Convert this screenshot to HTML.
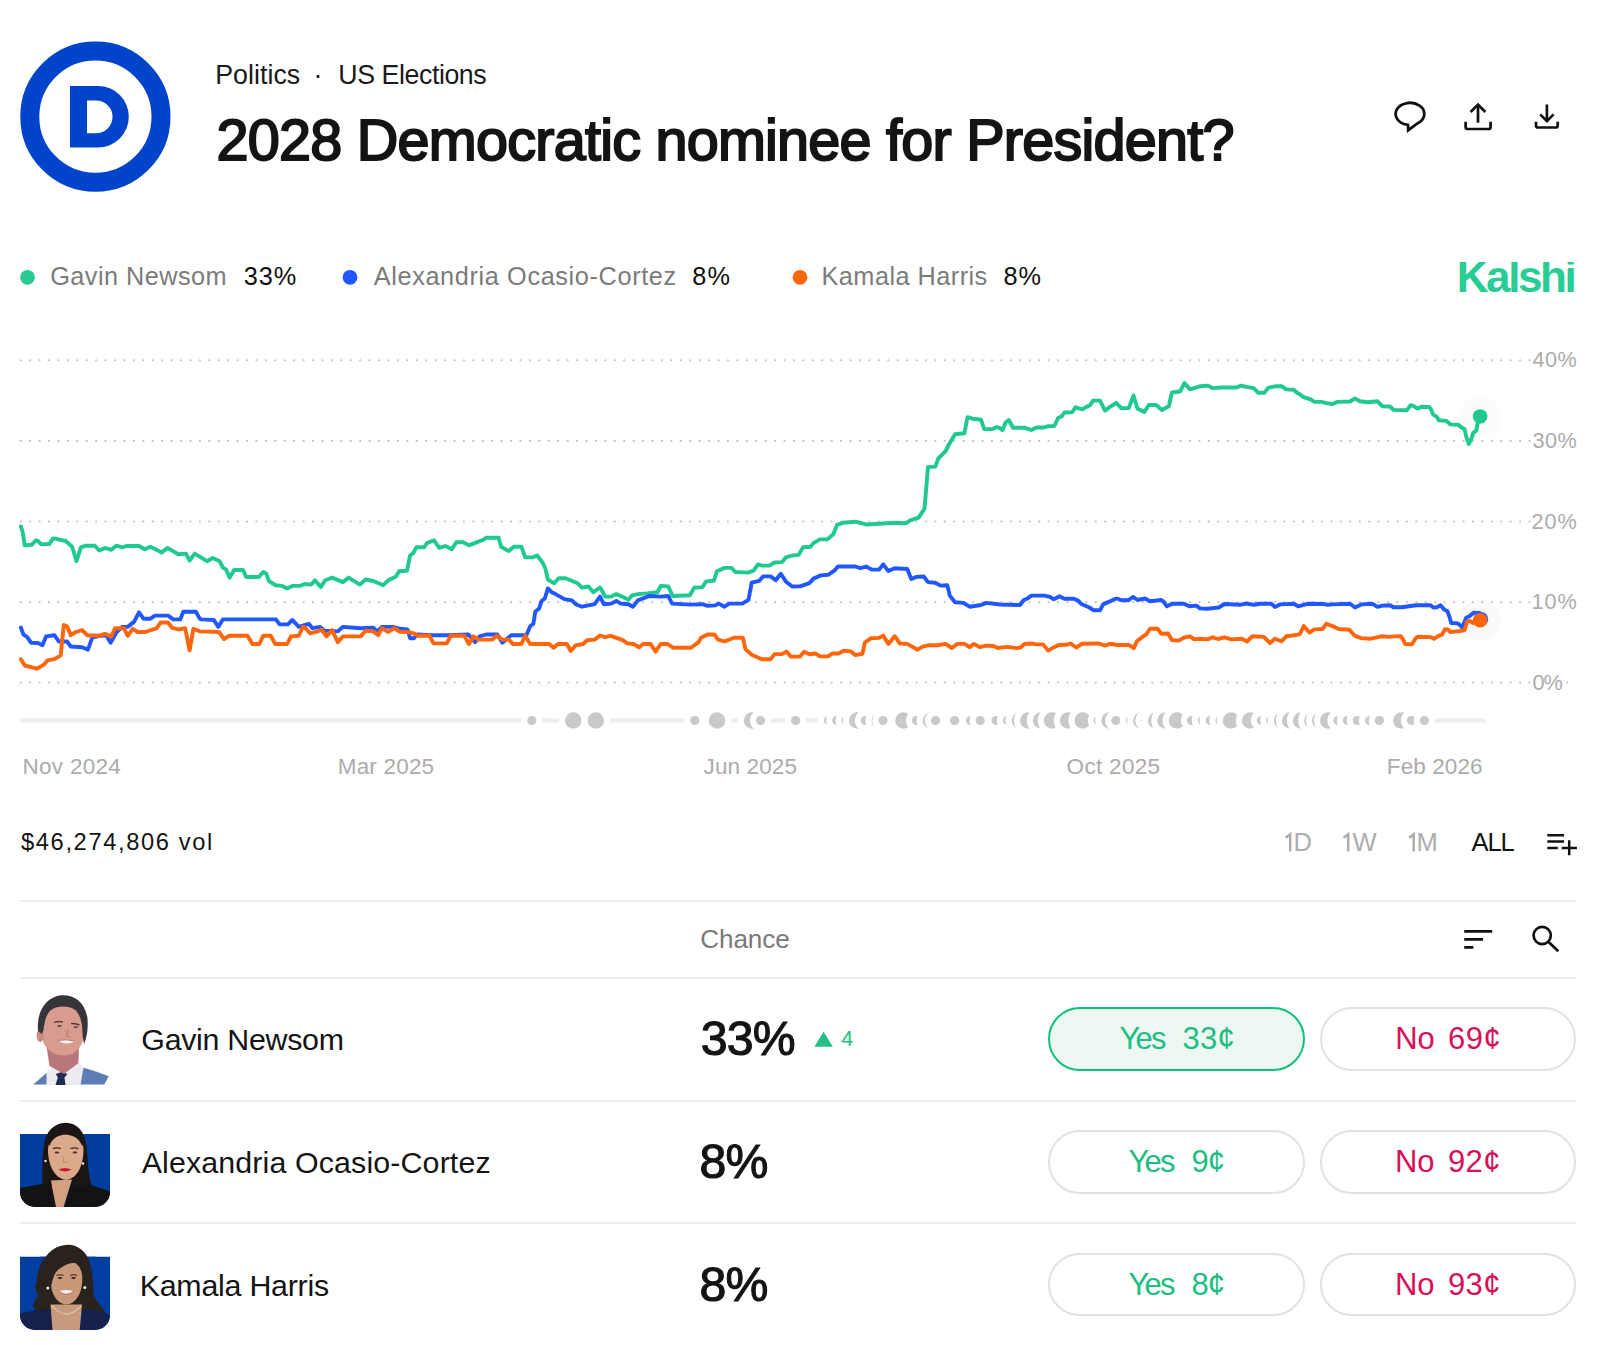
<!DOCTYPE html>
<html><head><meta charset="utf-8">
<style>
html,body{margin:0;padding:0;background:#fff;}
body{width:1600px;height:1345px;overflow:hidden;position:relative;font-family:"Liberation Sans",sans-serif;}
.abs{position:absolute;}
.t{position:absolute;white-space:nowrap;font-family:"Liberation Sans",sans-serif;}
.div{position:absolute;left:20px;width:1556px;height:2px;background:#ececec;}
.btn{position:absolute;box-sizing:border-box;height:63.5px;border-radius:32px;border:2px solid #e2e2e2;background:#fff;}
.btn.yes1{border-color:#0DC07E;background:#EEF8F3;}
</style></head><body>
<!-- Dem logo -->
<svg class="abs" style="left:0;top:0" width="200" height="200" viewBox="0 0 200 200">
<circle cx="95.4" cy="116.7" r="65.6" fill="none" stroke="#0044CB" stroke-width="19"/>
<path fill="#0044CB" fill-rule="evenodd" d="M70,86 H98 A30.8,30.8 0 0 1 98,147.6 H70 Z M87,100.4 H96.1 A16.45,16.45 0 0 1 96.1,133.3 H87 Z"/>
</svg>
<!-- header icons -->
<svg class="abs" style="left:1380px;top:90px" width="200" height="50" viewBox="1380 90 200 50">
<g fill="none" stroke="#111" stroke-width="2.8" stroke-linejoin="miter">
<path d="M1408.2,130.2 L1408,124.9 A14.35,11.1 0 1 1 1417.4,123.4 Z"/>
</g>
<g fill="none" stroke="#111" stroke-width="2.7" stroke-linecap="butt" stroke-linejoin="miter">
<path d="M1478,105 V122.7"/>
<path d="M1470.6,112 L1478,104.6 L1485.4,112"/>
<path d="M1465.6,121.8 V126.9 Q1465.6,129 1467.7,129 H1488.5 Q1490.6,129 1490.6,126.9 V121.8"/>
<path d="M1546.9,104.5 V121.5"/>
<path d="M1540.2,114.4 L1546.9,121.1 L1553.6,114.4"/>
<path d="M1536,121.8 V125.4 Q1536,127.5 1538.1,127.5 H1555.6 Q1557.7,127.5 1557.7,125.4 V121.8"/>
</g>
</svg>
<!-- legend dots -->
<svg class="abs" style="left:0;top:260px" width="820" height="40" viewBox="0 260 820 40">
<circle cx="27.5" cy="277.3" r="7.4" fill="#2ACA93"/>
<circle cx="350" cy="277.3" r="7.4" fill="#2157FF"/>
<circle cx="800" cy="277.3" r="7.4" fill="#FF650B"/>
</svg>
<svg class="abs" width="1600" height="1345" viewBox="0 0 1600 1345" style="left:0;top:0">
<circle cx="1480.1" cy="416.5" r="21" fill="#fafcfb"/>
<circle cx="1480.1" cy="620.3" r="21" fill="#f9f9f9"/>
<line x1="20.7" y1="360.3" x2="1576" y2="360.3" stroke="#c4c4c4" stroke-width="2.2" stroke-dasharray="0 9.43" stroke-linecap="round"/>
<line x1="20.7" y1="440.9" x2="1576" y2="440.9" stroke="#c4c4c4" stroke-width="2.2" stroke-dasharray="0 9.43" stroke-linecap="round"/>
<line x1="20.7" y1="521.6" x2="1576" y2="521.6" stroke="#c4c4c4" stroke-width="2.2" stroke-dasharray="0 9.43" stroke-linecap="round"/>
<line x1="20.7" y1="602.2" x2="1576" y2="602.2" stroke="#c4c4c4" stroke-width="2.2" stroke-dasharray="0 9.43" stroke-linecap="round"/>
<line x1="20.7" y1="682.6" x2="1576" y2="682.6" stroke="#c4c4c4" stroke-width="2.2" stroke-dasharray="0 9.43" stroke-linecap="round"/>
<path d="M20.9,526.4 L22.8,532.8 L24.7,545.4 L31.6,544.8 L36.0,540.3 L37.9,541.0 L41.1,544.1 L49.3,544.1 L53.1,538.4 L56.3,538.8 L65.7,541.0 L72.1,546.7 L76.5,561.2 L80.9,547.3 L86.0,545.7 L94.8,545.7 L99.2,550.5 L104.9,547.9 L111.3,549.8 L116.3,545.7 L122.0,547.3 L126.4,546.0 L139.0,546.0 L144.8,549.2 L150.4,546.7 L161.8,552.4 L167.5,547.9 L178.3,554.2 L185.8,553.6 L189.6,560.6 L194.7,553.6 L200.0,556.8 L207.0,561.2 L212.6,558.0 L219.6,561.2 L222.8,567.5 L225.9,569.4 L229.7,577.6 L234.1,570.0 L243.0,570.0 L246.1,577.0 L258.8,577.0 L263.2,572.0 L266.4,573.8 L268.9,580.8 L275.2,585.2 L282.2,585.9 L287.2,588.4 L292.3,585.9 L299.9,585.9 L304.9,584.0 L311.3,584.6 L315.0,580.2 L320.7,587.1 L325.2,580.2 L332.1,577.6 L342.9,582.1 L348.6,577.6 L359.9,584.6 L365.6,579.5 L373.2,581.0 L383.3,585.2 L388.4,580.2 L396.0,576.4 L399.1,571.3 L407.0,570.7 L410.1,555.5 L413.3,553.0 L416.4,547.3 L424.0,547.3 L427.2,542.9 L434.1,540.3 L439.2,547.9 L445.5,546.0 L451.8,549.2 L456.3,542.2 L463.2,542.2 L468.9,545.4 L475.9,542.6 L483.4,539.7 L486.0,537.8 L498.6,537.8 L501.1,546.7 L508.7,551.1 L513.8,546.7 L521.4,546.7 L525.2,557.4 L532.7,557.4 L537.2,555.5 L542.9,563.1 L545.4,568.8 L547.9,579.5 L554.2,583.3 L558.7,578.3 L565.6,578.3 L577.6,583.3 L582.0,587.7 L588.4,586.5 L593.4,592.2 L600.0,587.5 L601.9,590.3 L605.1,596.6 L611.4,596.6 L616.4,594.1 L623.4,597.2 L628.4,599.8 L632.2,595.3 L637.9,594.1 L646.8,593.4 L657.5,592.2 L660.7,585.9 L668.3,586.5 L672.7,596.0 L689.8,595.3 L694.2,587.7 L702.4,587.1 L706.2,581.4 L713.8,580.8 L716.9,571.3 L724.5,567.9 L731.5,567.9 L735.3,572.0 L747.9,572.6 L753.6,570.7 L758.0,564.4 L761.8,565.6 L769.4,565.6 L774.5,562.5 L782.0,562.1 L785.8,557.4 L792.2,555.5 L798.5,554.9 L803.1,547.3 L810.4,546.7 L813.5,543.2 L819.8,539.4 L827.1,539.4 L833.3,534.2 L837.0,524.9 L842.7,522.8 L855.2,521.7 L866.6,524.5 L879.1,523.8 L893.7,522.8 L906.1,523.2 L910.3,520.3 L918.6,517.6 L924.5,508.6 L928.0,467.0 L935.3,466.6 L938.4,458.3 L945.7,451.0 L949.4,443.7 L955.0,434.3 L964.4,433.3 L967.5,417.1 L972.7,418.7 L981.1,419.8 L984.2,429.1 L992.5,429.1 L996.7,427.1 L1000.0,428.1 L1002.5,430.3 L1005.6,422.5 L1008.8,420.0 L1013.1,427.8 L1025.0,427.8 L1031.3,430.0 L1036.3,427.5 L1043.8,427.5 L1047.5,426.3 L1054.4,426.0 L1058.1,418.1 L1061.9,416.3 L1064.4,412.5 L1071.9,412.3 L1075.6,407.3 L1082.5,409.4 L1086.3,406.9 L1090.0,405.3 L1093.1,400.6 L1100.0,400.6 L1105.0,410.6 L1110.0,406.9 L1116.3,402.8 L1121.3,408.1 L1128.8,408.1 L1133.5,395.6 L1137.5,408.8 L1144.4,411.9 L1148.8,405.0 L1156.3,405.0 L1161.9,410.0 L1168.8,406.3 L1171.9,392.5 L1180.0,391.5 L1184.4,383.1 L1190.0,389.4 L1200.0,386.3 L1207.5,385.6 L1212.5,388.1 L1221.3,387.5 L1236.3,387.5 L1241.3,385.6 L1246.3,386.9 L1253.8,388.1 L1258.1,392.8 L1264.4,392.8 L1268.1,387.8 L1275.0,386.3 L1281.9,386.3 L1286.3,389.4 L1293.8,389.8 L1296.9,392.5 L1300.6,394.8 L1303.1,396.9 L1310.6,399.4 L1314.4,401.9 L1321.3,401.9 L1326.3,403.1 L1332.5,404.0 L1337.5,401.9 L1350.0,401.5 L1355.0,398.5 L1360.0,401.3 L1367.5,402.3 L1377.5,401.3 L1382.5,406.3 L1390.0,406.5 L1393.4,409.9 L1406.8,410.3 L1410.6,405.1 L1413.4,405.8 L1417.5,408.6 L1421.6,406.8 L1429.2,407.0 L1431.3,409.9 L1433.0,414.4 L1436.8,416.8 L1438.8,420.3 L1446.4,420.9 L1450.5,424.4 L1458.1,424.7 L1461.5,427.5 L1464.6,429.2 L1466.3,436.8 L1468.7,444.0 L1471.1,439.5 L1473.2,433.0 L1476.3,430.6 L1477.7,423.0 L1480.1,416.5" fill="none" stroke="#1FC991" stroke-width="3.9" stroke-linejoin="round" stroke-linecap="round"/>
<path d="M20.9,627.6 L23.4,634.5 L27.2,637.1 L31.0,642.7 L37.9,643.0 L42.4,645.3 L46.1,636.4 L54.4,635.2 L58.8,641.5 L67.0,641.5 L70.8,646.5 L82.2,647.2 L87.9,649.7 L92.3,637.7 L99.9,635.8 L106.2,635.2 L110.6,642.7 L116.3,632.6 L122.0,626.9 L127.7,626.9 L134.0,621.9 L139.0,612.4 L143.5,618.7 L150.4,618.7 L154.9,615.6 L168.1,615.6 L173.2,619.4 L180.2,619.4 L183.3,611.8 L196.0,611.8 L199.7,618.7 L201.3,619.4 L213.9,620.0 L218.3,626.9 L222.8,619.4 L275.9,619.4 L279.6,624.4 L287.9,624.4 L292.3,620.0 L296.1,623.8 L298.6,626.9 L308.7,623.8 L312.5,628.2 L320.1,626.9 L324.5,630.7 L337.8,631.4 L342.9,626.9 L360.6,628.2 L373.2,627.6 L377.0,631.4 L382.0,626.9 L393.4,626.9 L399.7,628.8 L407.6,629.5 L410.1,638.3 L413.9,638.3 L417.1,634.5 L431.6,635.2 L449.3,635.2 L468.3,634.5 L475.2,642.1 L479.6,636.4 L486.0,634.5 L497.3,634.5 L502.4,642.7 L511.3,635.2 L526.4,635.2 L530.2,626.3 L533.4,623.8 L535.3,611.8 L539.1,608.6 L541.6,601.0 L544.8,598.5 L547.9,588.4 L551.7,592.2 L555.5,594.1 L564.4,599.1 L571.9,600.4 L575.7,604.2 L582.0,606.7 L594.7,604.2 L600.0,596.6 L603.8,604.2 L611.4,603.6 L616.4,601.0 L620.9,603.6 L628.4,604.2 L632.9,606.7 L637.9,600.4 L649.3,596.0 L660.7,596.6 L668.3,596.0 L672.1,603.6 L691.0,604.6 L702.4,604.2 L707.5,605.8 L715.0,605.4 L718.8,603.6 L724.5,606.7 L729.0,603.6 L742.2,603.6 L748.5,599.8 L751.7,582.7 L759.3,580.8 L763.1,576.4 L770.7,576.4 L775.7,580.2 L780.8,573.8 L785.8,581.4 L792.2,586.5 L800.0,586.4 L809.4,583.1 L813.5,578.6 L820.8,575.4 L828.1,574.8 L834.3,570.7 L837.9,566.5 L855.2,566.5 L860.4,568.2 L866.2,566.5 L871.8,569.6 L879.1,569.6 L883.2,564.4 L888.4,571.1 L894.7,568.2 L907.2,569.0 L911.3,579.0 L916.5,576.9 L923.8,576.5 L928.0,582.1 L935.3,582.7 L940.5,585.6 L947.3,585.2 L949.8,595.6 L955.0,602.3 L963.4,602.9 L969.6,606.7 L981.1,605.0 L986.3,602.9 L1000.0,604.5 L1020.0,605.0 L1023.8,600.0 L1026.9,598.8 L1031.3,595.6 L1044.4,595.6 L1050.0,596.9 L1053.8,599.4 L1059.4,596.3 L1064.4,598.8 L1073.8,598.8 L1078.1,600.6 L1081.3,604.0 L1089.4,607.5 L1093.8,610.3 L1100.0,610.3 L1103.1,604.4 L1108.8,601.9 L1113.8,599.4 L1116.9,598.5 L1121.9,600.3 L1128.1,600.3 L1133.1,596.9 L1137.5,600.0 L1145.0,598.5 L1150.0,601.3 L1161.3,600.0 L1163.8,601.9 L1166.9,606.3 L1172.5,603.8 L1183.8,603.8 L1189.4,606.3 L1196.3,605.6 L1200.0,608.4 L1207.5,608.8 L1218.8,607.5 L1224.4,604.0 L1240.0,604.8 L1246.3,603.5 L1253.8,604.8 L1260.0,603.8 L1271.3,603.8 L1275.0,606.9 L1280.0,604.4 L1293.8,603.8 L1298.1,606.3 L1307.5,603.8 L1323.8,604.0 L1327.5,604.8 L1332.5,604.4 L1350.0,603.8 L1355.0,607.5 L1361.3,604.4 L1372.5,603.8 L1377.5,606.9 L1382.5,605.6 L1390.0,605.2 L1393.4,607.2 L1401.7,607.2 L1416.1,605.3 L1430.6,605.3 L1433.3,607.5 L1436.8,607.2 L1440.5,605.3 L1444.3,609.6 L1447.4,611.3 L1449.5,616.8 L1451.2,623.0 L1457.4,623.3 L1459.4,624.7 L1462.2,627.5 L1466.3,617.5 L1469.1,616.5 L1473.5,612.7 L1479.4,613.0 L1481.0,614.5" fill="none" stroke="#2157FF" stroke-width="3.9" stroke-linejoin="round" stroke-linecap="round"/>
<path d="M20.9,659.2 L24.7,665.5 L36.7,668.7 L43.6,664.9 L47.4,660.4 L54.4,659.2 L60.7,655.4 L63.8,625.0 L67.0,626.3 L70.8,635.2 L75.9,632.0 L82.2,630.1 L87.2,635.2 L98.6,635.8 L104.9,633.9 L111.3,636.4 L115.0,628.2 L123.9,628.2 L127.7,635.8 L132.7,628.8 L137.8,632.0 L145.4,632.0 L156.8,628.2 L160.6,622.5 L168.1,622.5 L171.9,627.6 L178.3,629.5 L185.2,628.2 L189.6,650.3 L193.4,628.8 L200.0,631.4 L219.0,632.0 L224.0,639.0 L229.1,635.8 L247.4,635.8 L252.5,644.0 L259.4,644.0 L263.2,635.8 L270.8,635.8 L275.2,644.0 L287.2,644.0 L291.0,636.4 L298.6,635.8 L303.0,626.9 L306.2,628.8 L310.0,633.3 L317.6,631.4 L321.4,629.5 L326.4,636.4 L332.1,630.1 L337.8,642.1 L342.9,636.4 L360.6,636.4 L365.6,630.7 L373.2,631.4 L378.3,635.2 L382.0,628.2 L388.4,632.0 L394.1,628.2 L400.0,631.7 L407.6,632.0 L413.9,633.3 L417.1,635.8 L429.7,635.8 L433.5,643.4 L446.8,643.4 L450.6,635.8 L464.5,635.8 L468.9,644.0 L473.3,636.4 L478.4,639.6 L492.3,639.6 L496.7,635.8 L502.4,639.6 L508.7,639.6 L513.1,644.0 L521.4,644.0 L525.2,635.8 L530.2,644.0 L549.2,644.0 L553.6,647.8 L558.0,644.0 L566.9,644.0 L570.7,651.0 L575.7,645.3 L583.3,644.0 L587.1,640.2 L594.7,639.6 L600.0,635.5 L605.1,637.1 L610.7,635.8 L622.8,640.2 L627.2,643.4 L633.5,644.0 L639.2,647.2 L643.0,644.0 L650.6,644.0 L655.6,651.6 L660.7,644.0 L667.6,644.0 L673.3,647.8 L691.0,647.8 L698.6,642.1 L701.1,637.7 L707.5,634.5 L714.4,634.5 L718.2,639.6 L724.5,641.5 L734.0,637.7 L742.9,637.7 L745.4,649.1 L751.7,654.8 L761.8,659.2 L770.7,659.2 L774.5,654.1 L782.0,654.1 L786.5,651.6 L790.9,656.6 L800.0,656.5 L804.2,651.8 L809.4,654.3 L815.6,653.5 L819.8,656.4 L828.1,656.4 L832.3,653.5 L838.5,653.5 L843.7,650.8 L851.0,651.4 L855.2,655.0 L862.4,653.9 L864.9,642.5 L870.8,638.3 L879.1,637.9 L883.2,635.6 L888.4,643.9 L894.7,636.2 L899.9,643.5 L907.2,643.9 L917.6,649.7 L922.8,646.6 L929.0,645.2 L937.4,645.2 L945.7,643.9 L951.9,648.1 L957.1,643.9 L964.4,643.9 L969.6,647.2 L973.8,643.9 L980.0,647.2 L986.3,645.6 L993.5,646.0 L997.7,648.1 L1000.0,647.6 L1007.5,646.9 L1016.3,648.1 L1020.6,647.5 L1024.4,644.0 L1031.3,643.5 L1036.3,644.4 L1043.1,644.4 L1048.1,650.6 L1052.5,648.1 L1058.8,645.0 L1066.3,644.8 L1070.6,643.5 L1076.3,647.5 L1081.9,643.8 L1098.8,643.5 L1105.0,645.6 L1110.0,643.8 L1117.5,645.0 L1128.8,645.0 L1133.8,648.1 L1136.9,641.3 L1142.5,636.9 L1146.3,634.4 L1150.0,628.8 L1157.5,628.8 L1161.3,633.8 L1168.1,633.5 L1171.9,640.0 L1178.8,640.6 L1184.4,637.5 L1190.0,636.3 L1194.4,639.4 L1200.0,638.8 L1207.5,639.4 L1212.5,637.3 L1218.1,639.0 L1224.4,637.3 L1231.3,639.4 L1241.9,638.8 L1246.9,641.5 L1252.5,636.3 L1263.8,636.9 L1270.0,643.1 L1275.0,638.8 L1281.3,641.3 L1286.3,636.3 L1296.3,635.0 L1300.0,633.8 L1303.8,626.0 L1309.4,632.5 L1314.4,629.4 L1322.5,629.0 L1326.3,623.8 L1334.4,626.9 L1338.8,629.0 L1349.4,629.8 L1354.4,635.6 L1361.3,638.1 L1370.0,638.8 L1381.3,636.3 L1388.8,636.9 L1394.1,636.4 L1400.7,636.1 L1403.1,639.5 L1405.1,644.0 L1412.0,644.3 L1415.8,638.1 L1418.2,636.7 L1430.6,637.1 L1434.0,638.8 L1438.1,636.1 L1441.9,634.7 L1445.0,629.2 L1447.8,629.5 L1450.5,632.0 L1461.5,630.9 L1464.6,629.9 L1467.0,621.6 L1469.8,620.9 L1473.2,623.0 L1480.1,620.3" fill="none" stroke="#FF650B" stroke-width="3.9" stroke-linejoin="round" stroke-linecap="round"/>
<circle cx="1480.1" cy="416.5" r="7.3" fill="#1FC991"/>
<circle cx="1480.9" cy="619.2" r="7.3" fill="#2157FF"/>
<circle cx="1480.1" cy="620.3" r="7.3" fill="#FF650B"/>
<line x1="22" y1="720.5" x2="1484" y2="720.5" stroke="#ededed" stroke-width="4" stroke-linecap="round"/>
<circle cx="531.80" cy="720.5" r="10.60" fill="#fff"/><circle cx="531.80" cy="720.5" r="4.6" fill="#c9c9c9"/>
<circle cx="573.30" cy="720.5" r="14.30" fill="#fff"/><circle cx="573.30" cy="720.5" r="8.3" fill="#c9c9c9"/>
<circle cx="595.80" cy="720.5" r="14.30" fill="#fff"/><circle cx="595.80" cy="720.5" r="8.3" fill="#c9c9c9"/>
<circle cx="694.90" cy="720.5" r="10.60" fill="#fff"/><circle cx="694.90" cy="720.5" r="4.6" fill="#c9c9c9"/>
<circle cx="717.05" cy="720.5" r="14.30" fill="#fff"/><circle cx="717.05" cy="720.5" r="8.3" fill="#c9c9c9"/>
<circle cx="752.05" cy="720.5" r="14.30" fill="#fff"/><circle cx="752.05" cy="720.5" r="8.3" fill="#c9c9c9"/>
<circle cx="760.50" cy="720.5" r="10.60" fill="#fff"/><circle cx="760.50" cy="720.5" r="4.6" fill="#c9c9c9"/>
<circle cx="795.60" cy="720.5" r="10.60" fill="#fff"/><circle cx="795.60" cy="720.5" r="4.6" fill="#c9c9c9"/>
<circle cx="828.60" cy="720.5" r="10.60" fill="#fff"/><circle cx="828.60" cy="720.5" r="4.6" fill="#c9c9c9"/>
<circle cx="836.80" cy="720.5" r="10.60" fill="#fff"/><circle cx="836.80" cy="720.5" r="4.6" fill="#c9c9c9"/>
<circle cx="846.20" cy="720.5" r="10.60" fill="#fff"/><circle cx="846.20" cy="720.5" r="4.6" fill="#c9c9c9"/>
<circle cx="857.30" cy="720.5" r="14.30" fill="#fff"/><circle cx="857.30" cy="720.5" r="8.3" fill="#c9c9c9"/>
<circle cx="865.40" cy="720.5" r="10.60" fill="#fff"/><circle cx="865.40" cy="720.5" r="4.6" fill="#c9c9c9"/>
<circle cx="879.80" cy="720.5" r="14.30" fill="#fff"/><circle cx="879.80" cy="720.5" r="8.3" fill="#c9c9c9"/>
<circle cx="883.00" cy="720.5" r="10.60" fill="#fff"/><circle cx="883.00" cy="720.5" r="4.6" fill="#c9c9c9"/>
<circle cx="903.50" cy="720.5" r="14.30" fill="#fff"/><circle cx="903.50" cy="720.5" r="8.3" fill="#c9c9c9"/>
<circle cx="916.50" cy="720.5" r="10.60" fill="#fff"/><circle cx="916.50" cy="720.5" r="4.6" fill="#c9c9c9"/>
<circle cx="931.00" cy="720.5" r="14.30" fill="#fff"/><circle cx="931.00" cy="720.5" r="8.3" fill="#c9c9c9"/>
<circle cx="935.50" cy="720.5" r="10.60" fill="#fff"/><circle cx="935.50" cy="720.5" r="4.6" fill="#c9c9c9"/>
<circle cx="954.60" cy="720.5" r="10.60" fill="#fff"/><circle cx="954.60" cy="720.5" r="4.6" fill="#c9c9c9"/>
<circle cx="970.60" cy="720.5" r="10.60" fill="#fff"/><circle cx="970.60" cy="720.5" r="4.6" fill="#c9c9c9"/>
<circle cx="980.20" cy="720.5" r="10.60" fill="#fff"/><circle cx="980.20" cy="720.5" r="4.6" fill="#c9c9c9"/>
<circle cx="996.10" cy="720.5" r="10.60" fill="#fff"/><circle cx="996.10" cy="720.5" r="4.6" fill="#c9c9c9"/>
<circle cx="1007.50" cy="720.5" r="10.60" fill="#fff"/><circle cx="1007.50" cy="720.5" r="4.6" fill="#c9c9c9"/>
<circle cx="1019.90" cy="720.5" r="14.30" fill="#fff"/><circle cx="1019.90" cy="720.5" r="8.3" fill="#c9c9c9"/>
<circle cx="1028.30" cy="720.5" r="14.30" fill="#fff"/><circle cx="1028.30" cy="720.5" r="8.3" fill="#c9c9c9"/>
<circle cx="1041.05" cy="720.5" r="14.30" fill="#fff"/><circle cx="1041.05" cy="720.5" r="8.3" fill="#c9c9c9"/>
<circle cx="1052.05" cy="720.5" r="14.30" fill="#fff"/><circle cx="1052.05" cy="720.5" r="8.3" fill="#c9c9c9"/>
<circle cx="1068.05" cy="720.5" r="14.30" fill="#fff"/><circle cx="1068.05" cy="720.5" r="8.3" fill="#c9c9c9"/>
<circle cx="1082.70" cy="720.5" r="14.30" fill="#fff"/><circle cx="1082.70" cy="720.5" r="8.3" fill="#c9c9c9"/>
<circle cx="1098.35" cy="720.5" r="10.60" fill="#fff"/><circle cx="1098.35" cy="720.5" r="4.6" fill="#c9c9c9"/>
<circle cx="1109.55" cy="720.5" r="14.30" fill="#fff"/><circle cx="1109.55" cy="720.5" r="8.3" fill="#c9c9c9"/>
<circle cx="1115.85" cy="720.5" r="10.60" fill="#fff"/><circle cx="1115.85" cy="720.5" r="4.6" fill="#c9c9c9"/>
<circle cx="1130.50" cy="720.5" r="10.60" fill="#fff"/><circle cx="1130.50" cy="720.5" r="4.6" fill="#c9c9c9"/>
<circle cx="1141.40" cy="720.5" r="14.30" fill="#fff"/><circle cx="1141.40" cy="720.5" r="8.3" fill="#c9c9c9"/>
<circle cx="1146.00" cy="720.5" r="10.60" fill="#fff"/><circle cx="1146.00" cy="720.5" r="4.6" fill="#c9c9c9"/>
<circle cx="1156.20" cy="720.5" r="14.30" fill="#fff"/><circle cx="1156.20" cy="720.5" r="8.3" fill="#c9c9c9"/>
<circle cx="1165.55" cy="720.5" r="14.30" fill="#fff"/><circle cx="1165.55" cy="720.5" r="8.3" fill="#c9c9c9"/>
<circle cx="1177.05" cy="720.5" r="14.30" fill="#fff"/><circle cx="1177.05" cy="720.5" r="8.3" fill="#c9c9c9"/>
<circle cx="1191.50" cy="720.5" r="10.60" fill="#fff"/><circle cx="1191.50" cy="720.5" r="4.6" fill="#c9c9c9"/>
<circle cx="1202.50" cy="720.5" r="10.60" fill="#fff"/><circle cx="1202.50" cy="720.5" r="4.6" fill="#c9c9c9"/>
<circle cx="1210.20" cy="720.5" r="10.60" fill="#fff"/><circle cx="1210.20" cy="720.5" r="4.6" fill="#c9c9c9"/>
<circle cx="1220.00" cy="720.5" r="10.60" fill="#fff"/><circle cx="1220.00" cy="720.5" r="4.6" fill="#c9c9c9"/>
<circle cx="1231.05" cy="720.5" r="14.30" fill="#fff"/><circle cx="1231.05" cy="720.5" r="8.3" fill="#c9c9c9"/>
<circle cx="1250.20" cy="720.5" r="14.30" fill="#fff"/><circle cx="1250.20" cy="720.5" r="8.3" fill="#c9c9c9"/>
<circle cx="1261.50" cy="720.5" r="10.60" fill="#fff"/><circle cx="1261.50" cy="720.5" r="4.6" fill="#c9c9c9"/>
<circle cx="1270.85" cy="720.5" r="10.60" fill="#fff"/><circle cx="1270.85" cy="720.5" r="4.6" fill="#c9c9c9"/>
<circle cx="1282.05" cy="720.5" r="14.30" fill="#fff"/><circle cx="1282.05" cy="720.5" r="8.3" fill="#c9c9c9"/>
<circle cx="1290.20" cy="720.5" r="14.30" fill="#fff"/><circle cx="1290.20" cy="720.5" r="8.3" fill="#c9c9c9"/>
<circle cx="1301.20" cy="720.5" r="14.30" fill="#fff"/><circle cx="1301.20" cy="720.5" r="8.3" fill="#c9c9c9"/>
<circle cx="1312.40" cy="720.5" r="14.30" fill="#fff"/><circle cx="1312.40" cy="720.5" r="8.3" fill="#c9c9c9"/>
<circle cx="1320.20" cy="720.5" r="14.30" fill="#fff"/><circle cx="1320.20" cy="720.5" r="8.3" fill="#c9c9c9"/>
<circle cx="1328.30" cy="720.5" r="14.30" fill="#fff"/><circle cx="1328.30" cy="720.5" r="8.3" fill="#c9c9c9"/>
<circle cx="1338.00" cy="720.5" r="10.60" fill="#fff"/><circle cx="1338.00" cy="720.5" r="4.6" fill="#c9c9c9"/>
<circle cx="1347.50" cy="720.5" r="10.60" fill="#fff"/><circle cx="1347.50" cy="720.5" r="4.6" fill="#c9c9c9"/>
<circle cx="1357.35" cy="720.5" r="10.60" fill="#fff"/><circle cx="1357.35" cy="720.5" r="4.6" fill="#c9c9c9"/>
<circle cx="1369.60" cy="720.5" r="10.60" fill="#fff"/><circle cx="1369.60" cy="720.5" r="4.6" fill="#c9c9c9"/>
<circle cx="1379.35" cy="720.5" r="10.60" fill="#fff"/><circle cx="1379.35" cy="720.5" r="4.6" fill="#c9c9c9"/>
<circle cx="1401.40" cy="720.5" r="14.30" fill="#fff"/><circle cx="1401.40" cy="720.5" r="8.3" fill="#c9c9c9"/>
<circle cx="1411.50" cy="720.5" r="10.60" fill="#fff"/><circle cx="1411.50" cy="720.5" r="4.6" fill="#c9c9c9"/>
<circle cx="1424.35" cy="720.5" r="10.60" fill="#fff"/><circle cx="1424.35" cy="720.5" r="4.6" fill="#c9c9c9"/>
</svg>
<!-- list add icon -->
<svg class="abs" style="left:1540px;top:825px" width="50" height="40" viewBox="1540 825 50 40">
<g stroke="#111" stroke-width="2.5" fill="none">
<path d="M1547.3,835.3 H1564.1 M1547.3,841.6 H1564.1 M1547.3,847.9 H1557.8 M1561.7,847.9 H1576.9 M1569.2,840.3 V855.3"/>
</g>
</svg>
<svg class="abs" style="left:1280px;top:830px" width="160" height="26" viewBox="1280 830 160 26">
<g stroke="#adadad" stroke-width="2.5" fill="none" stroke-linejoin="miter">
<path d="M1290.2,851.6 V834.3 L1285.6,837.8"/>
<path d="M1348.2,851.6 V834.3 L1343.6,837.8"/>
<path d="M1413.7,851.6 V834.3 L1409.1,837.8"/>
</g></svg>
<!-- dividers -->
<div class="div" style="top:900px"></div>
<div class="div" style="top:977px"></div>
<div class="div" style="top:1100px"></div>
<div class="div" style="top:1222px"></div>
<!-- filter & search -->
<svg class="abs" style="left:1450px;top:915px" width="130" height="45" viewBox="1450 915 130 45">
<g stroke="#111" stroke-width="2.7" fill="none">
<path d="M1464.2,931.4 H1492.2 M1464.2,939.4 H1483 M1464.2,947.3 H1473.4"/>
<circle cx="1542.2" cy="935.5" r="8.6"/>
<path d="M1548.6,942 L1558.3,951.3"/>
</g>
</svg>
<!-- buttons -->
<div class="btn yes1" style="left:1048.2px;top:1007.4px;width:256.4px"></div>
<div class="btn" style="left:1320px;top:1007.4px;width:256px"></div>
<div class="btn" style="left:1048.2px;top:1130.2px;width:256.4px"></div>
<div class="btn" style="left:1320px;top:1130.2px;width:256px"></div>
<div class="btn" style="left:1048.2px;top:1252.8px;width:256.4px"></div>
<div class="btn" style="left:1320px;top:1252.8px;width:256px"></div>
<!-- up triangle -->
<svg class="abs" style="left:810px;top:1028px" width="30" height="22" viewBox="810 1028 30 22">
<path d="M814.3,1046.7 L823.6,1031.8 L832.9,1046.7 Z" fill="#22BF86"/>
</svg>
<!-- portraits -->
<svg class="abs" style="left:20px;top:990px" width="92" height="100" viewBox="20 990 92 100">
<path d="M33.2,1084.6 L46.2,1073.3 L60,1066 L76,1064 L82,1067.3 L96,1071.5 L108.7,1076.2 L104.2,1084.6 Z" fill="#5E7CB6"/>
<path d="M46.4,1085 L46.6,1071 L58,1064 L78,1062 L83.5,1067.5 L80.5,1085 Z" fill="#EEEBF0"/>
<path d="M55.5,1085 L57.8,1077.5 L55.8,1074 L61.5,1072 L67.5,1074 L64.5,1077.5 L65.5,1085 Z" fill="#1F2C55"/>
<path d="M46.5,1046 L79,1044 L78.5,1063 L64,1074 L49.5,1066 Z" fill="#B7767A"/>
<path d="M39.5,1026 C39.5,1016 45,1007 56,1005 C68,1003 80,1007 83.5,1020 C85.5,1030 84.5,1040 80,1047 C75,1054 68,1056 62.5,1055.5 C54,1055 47,1050 43.5,1043 Z" fill="#D79C8F"/>
<ellipse cx="40.2" cy="1035.5" rx="3.6" ry="6.5" fill="#C98A80"/>
<path d="M38,1031 C36.5,1012 45,998 60.5,995.3 C74,994.5 84,1001 87.3,1017 C88.5,1027 87,1038 84,1044 L82.5,1035 C82.8,1024 80.5,1016 76,1010.5 C70,1005.5 58,1005 51,1010 C46,1014 44.5,1022 43.5,1030 L42,1034 Z" fill="#36353A"/>
<path d="M54.5,1022.5 Q58.5,1020.8 63,1022.2" stroke="#5A3A36" stroke-width="1.4" fill="none"/>
<path d="M71,1023.6 Q75.5,1023 79.5,1025.2" stroke="#5A3A36" stroke-width="1.4" fill="none"/>
<ellipse cx="59.5" cy="1026" rx="2.2" ry="1" fill="#6A4440"/>
<ellipse cx="75.8" cy="1027.3" rx="2.2" ry="1" fill="#6A4440"/>
<path d="M68,1030 L66.5,1036.5 L70.5,1037" stroke="#B97C74" stroke-width="1.2" fill="none"/>
<path d="M57.8,1040.4 Q66,1039 75,1041 Q67,1046.5 57.8,1040.4 Z" fill="#F4F0F0"/>
<path d="M57.8,1040.4 Q66,1039 75,1041" stroke="#A8605C" stroke-width="0.8" fill="none"/>
</svg>
<svg class="abs" style="left:20px;top:1115px" width="92" height="96" viewBox="20 1115 92 96">
<defs><clipPath id="c2"><path d="M20,1134 H40 V1100 H92 V1134 H110 V1192 A15,15 0 0 1 95,1207 H35 A15,15 0 0 1 20,1192 Z"/></clipPath></defs>
<g clip-path="url(#c2)">
<path d="M20,1134 H110 V1207 H20 Z" fill="#003D9F"/>
<path d="M42.5,1186 C42,1170 42.5,1155 44,1145 C45.5,1132 54,1123 65.6,1122.8 C77,1123 84.5,1131 86.5,1146 C88,1160 88,1174 91.6,1186 Z" fill="#1B1514"/>
<path d="M48,1150 C48,1139 55.5,1133.5 65.8,1133.5 C76,1133.5 83.5,1139 83.5,1150 C83.5,1164 78,1178.5 66,1180 C54,1178.5 48,1164 48,1150 Z" fill="#DCA98A"/>
<path d="M47.5,1142 C50,1134 57,1130.5 65.5,1130.5 L66.2,1134.5 C58,1135 52,1138 49.5,1146 Z" fill="#1B1514"/>
<path d="M84,1142 C81.5,1134 74,1130.5 65.5,1130.5 L65,1134.5 C73,1135 79.5,1138 82,1146 Z" fill="#1B1514"/>
<path d="M53,1148.6 Q57,1147 61,1148.5" stroke="#3A2420" stroke-width="1.2" fill="none"/>
<path d="M70.5,1148.5 Q74.5,1147 78.5,1148.8" stroke="#3A2420" stroke-width="1.2" fill="none"/>
<ellipse cx="57" cy="1152.6" rx="2.4" ry="1" fill="#4A302A"/>
<ellipse cx="75" cy="1152.6" rx="2.4" ry="1" fill="#4A302A"/>
<path d="M64,1156 L63,1162 L67.5,1162.5" stroke="#BE8A70" stroke-width="1" fill="none"/>
<path d="M58.5,1169.5 Q65,1166.5 71.5,1169.5 Q65,1173.5 58.5,1169.5 Z" fill="#D0182A"/>
<circle cx="45.5" cy="1161" r="1.2" fill="#eee"/>
<circle cx="83" cy="1163.5" r="1.2" fill="#eee"/>
<path d="M20,1188 C30,1186 42,1184 51,1182 L56,1207 H20 Z" fill="#131313"/>
<path d="M110,1191.6 C102,1189 95,1186 91.6,1185.6 L70,1185.6 L64,1207 H110 Z" fill="#131313"/>
<path d="M51,1180.5 L72,1179.5 L63.5,1207 L54,1207 Z" fill="#D4A080"/>
<path d="M51,1182 L56,1207 L50,1207 L47,1184 Z" fill="#131313"/>
</g>
</svg>
<svg class="abs" style="left:20px;top:1238px" width="92" height="96" viewBox="20 1238 92 96">
<defs><clipPath id="c3"><path d="M20,1256.6 H40 V1230 H96 V1256.6 H110 V1315 A15,15 0 0 1 95,1330 H35 A15,15 0 0 1 20,1315 Z"/></clipPath></defs>
<g clip-path="url(#c3)">
<path d="M20,1256.6 H110 V1330 H20 Z" fill="#003EA2"/>
<path d="M37,1312 C31,1306 33,1301 39,1296 C36,1293 34,1288 36.5,1282 C37.5,1272 40,1262 47,1255 C53,1248 60,1244.7 68.5,1244.7 C77,1245 84,1250 87.5,1257 C92,1266 93,1280 93.8,1296 C97,1302 103,1308 106.4,1314 Z" fill="#2A221D"/>
<path d="M50.5,1278 C50.5,1267 57,1260.5 66.3,1260.5 C75.5,1260.5 82.3,1267 82.3,1278 C82.3,1292 77,1303.5 66.3,1304.5 C55.5,1303.5 50.5,1292 50.5,1278 Z" fill="#C99878"/>
<path d="M49,1290 C48,1276 50,1262 60,1257 C70,1254 79,1257 83,1264 C74,1261 64,1264 56,1272 C53,1277 51,1284 50.5,1292 Z" fill="#2A221D"/>
<path d="M56.5,1275.5 Q60,1274 63.5,1275.5" stroke="#3A2620" stroke-width="1.1" fill="none"/>
<path d="M70,1275.5 Q73.5,1274 77,1275.5" stroke="#3A2620" stroke-width="1.1" fill="none"/>
<ellipse cx="60" cy="1278" rx="2.3" ry="1" fill="#3A2620"/>
<ellipse cx="73.5" cy="1278" rx="2.3" ry="1" fill="#3A2620"/>
<path d="M58.5,1291.2 Q66.3,1289 74,1291.2 Q66.3,1297.5 58.5,1291.2 Z" fill="#F2ECEC"/>
<path d="M58.5,1291.2 Q66.3,1297.5 74,1291.2" stroke="#A06060" stroke-width="0.9" fill="none"/>
<circle cx="47.8" cy="1288" r="1.5" fill="#eee"/>
<circle cx="84.8" cy="1287.5" r="1.5" fill="#eee"/>
<path d="M20,1313.5 C28,1311.5 40,1310 50,1308.5 L54,1330 H20 Z" fill="#17204A"/>
<path d="M110,1315 C102,1312 92,1309 83,1308 L79,1330 H110 Z" fill="#17204A"/>
<path d="M50.5,1304.5 L82,1304.5 L79.7,1330 L52.5,1330 Z" fill="#C79A7E"/>
<path d="M52.5,1306 Q66,1322 81,1306" stroke="#E8DCC8" stroke-width="1.3" fill="none" stroke-dasharray="1.5 1.2"/>
</g>
</svg>
<div class="t" style="left:215.20px;top:61.66px;font-size:26.74px;line-height:26.74px;font-weight:400;color:#1a1a1a;letter-spacing:0.041px;">Politics</div>
<div class="t" style="left:313.50px;top:61.66px;font-size:26.74px;line-height:26.74px;font-weight:400;color:#1a1a1a;letter-spacing:0.000px;">·</div>
<div class="t" style="left:338.30px;top:61.66px;font-size:26.74px;line-height:26.74px;font-weight:400;color:#1a1a1a;letter-spacing:-0.425px;">US Elections</div>
<div class="t" style="left:216.60px;top:111.57px;font-size:57.56px;line-height:57.56px;font-weight:400;color:#141414;letter-spacing:-0.762px;-webkit-text-stroke:2px #141414;">2028 Democratic nominee for President?</div>
<div class="t" style="left:50.25px;top:264.29px;font-size:25.29px;line-height:25.29px;font-weight:400;color:#7b7b7b;letter-spacing:0.446px;">Gavin Newsom</div>
<div class="t" style="left:243.75px;top:264.29px;font-size:25.29px;line-height:25.29px;font-weight:400;color:#111;letter-spacing:0.940px;">33%</div>
<div class="t" style="left:373.75px;top:264.29px;font-size:25.29px;line-height:25.29px;font-weight:400;color:#7b7b7b;letter-spacing:0.624px;">Alexandria Ocasio-Cortez</div>
<div class="t" style="left:692.25px;top:264.29px;font-size:25.29px;line-height:25.29px;font-weight:400;color:#111;letter-spacing:1.190px;">8%</div>
<div class="t" style="left:821.50px;top:264.29px;font-size:25.29px;line-height:25.29px;font-weight:400;color:#7b7b7b;letter-spacing:0.465px;">Kamala Harris</div>
<div class="t" style="left:1003.40px;top:264.29px;font-size:25.29px;line-height:25.29px;font-weight:400;color:#111;letter-spacing:1.140px;">8%</div>
<div class="t" style="left:1456.75px;top:255.11px;font-size:44.04px;line-height:44.04px;font-weight:700;color:#28CC95;letter-spacing:-2.431px;clip-path:inset(6.9px -5px -5px -5px);">Kalshi</div>
<div class="t" style="left:1532.40px;top:349.46px;font-size:21.66px;line-height:21.66px;font-weight:400;color:#ababab;letter-spacing:0.465px;background:#fff;padding-right:2px;">40%</div>
<div class="t" style="left:1532.40px;top:430.06px;font-size:21.66px;line-height:21.66px;font-weight:400;color:#ababab;letter-spacing:0.465px;background:#fff;padding-right:2px;">30%</div>
<div class="t" style="left:1531.40px;top:510.76px;font-size:21.66px;line-height:21.66px;font-weight:400;color:#ababab;letter-spacing:0.965px;background:#fff;padding-right:2px;">20%</div>
<div class="t" style="left:1531.40px;top:591.36px;font-size:21.66px;line-height:21.66px;font-weight:400;color:#ababab;letter-spacing:0.965px;background:#fff;padding-right:2px;">10%</div>
<div class="t" style="left:1532.40px;top:671.76px;font-size:21.66px;line-height:21.66px;font-weight:400;color:#ababab;letter-spacing:-0.935px;background:#fff;padding-right:2px;">0%</div>
<div class="t" style="left:22.60px;top:756.42px;font-size:22.53px;line-height:22.53px;font-weight:400;color:#ababab;letter-spacing:0.248px;">Nov 2024</div>
<div class="t" style="left:337.70px;top:756.42px;font-size:22.53px;line-height:22.53px;font-weight:400;color:#ababab;letter-spacing:0.186px;">Mar 2025</div>
<div class="t" style="left:703.60px;top:756.42px;font-size:22.53px;line-height:22.53px;font-weight:400;color:#ababab;letter-spacing:0.097px;">Jun 2025</div>
<div class="t" style="left:1066.60px;top:756.42px;font-size:22.53px;line-height:22.53px;font-weight:400;color:#ababab;letter-spacing:0.307px;">Oct 2025</div>
<div class="t" style="left:1386.80px;top:756.42px;font-size:22.53px;line-height:22.53px;font-weight:400;color:#ababab;letter-spacing:0.097px;">Feb 2026</div>
<div class="t" style="left:21.00px;top:830.94px;font-size:23.69px;line-height:23.69px;font-weight:400;color:#141414;letter-spacing:1.620px;">$46,274,806 vol</div>
<div class="t" style="left:1293.50px;top:829.94px;font-size:25.58px;line-height:25.58px;font-weight:400;color:#adadad;letter-spacing:0.000px;">D</div>
<div class="t" style="left:1352.50px;top:829.94px;font-size:25.58px;line-height:25.58px;font-weight:400;color:#adadad;letter-spacing:0.000px;">W</div>
<div class="t" style="left:1416.50px;top:829.94px;font-size:25.58px;line-height:25.58px;font-weight:400;color:#adadad;letter-spacing:0.000px;">M</div>
<div class="t" style="left:1471.40px;top:829.94px;font-size:25.58px;line-height:25.58px;font-weight:400;color:#111;letter-spacing:-1.043px;">ALL</div>
<div class="t" style="left:700.30px;top:925.95px;font-size:26.16px;line-height:26.16px;font-weight:400;color:#7a7a7a;letter-spacing:-0.142px;">Chance</div>
<div class="t" style="left:141.30px;top:1024.08px;font-size:30.38px;line-height:30.38px;font-weight:400;color:#141414;letter-spacing:-0.295px;">Gavin Newsom</div>
<div class="t" style="left:141.70px;top:1147.18px;font-size:30.38px;line-height:30.38px;font-weight:400;color:#141414;letter-spacing:0.125px;">Alexandria Ocasio-Cortez</div>
<div class="t" style="left:139.70px;top:1269.88px;font-size:30.38px;line-height:30.38px;font-weight:400;color:#141414;letter-spacing:-0.245px;">Kamala Harris</div>
<div class="t" style="left:700.80px;top:1014.24px;font-size:48.26px;line-height:48.26px;font-weight:400;color:#141414;letter-spacing:-0.834px;-webkit-text-stroke:1.1px #141414;">33%</div>
<div class="t" style="left:699.60px;top:1137.34px;font-size:48.26px;line-height:48.26px;font-weight:400;color:#141414;letter-spacing:-1.034px;-webkit-text-stroke:1.1px #141414;">8%</div>
<div class="t" style="left:699.60px;top:1259.54px;font-size:48.26px;line-height:48.26px;font-weight:400;color:#141414;letter-spacing:-1.034px;-webkit-text-stroke:1.1px #141414;">8%</div>
<div class="t" style="left:841.30px;top:1028.61px;font-size:21.37px;line-height:21.37px;font-weight:400;color:#1EBE82;letter-spacing:0.000px;">4</div>
<div class="t" style="left:1119.60px;top:1023.99px;font-size:30.96px;line-height:30.96px;font-weight:400;color:#1EBE82;letter-spacing:-1.800px;">Yes</div>
<div class="t" style="left:1182.50px;top:1023.99px;font-size:30.96px;line-height:30.96px;font-weight:400;color:#1EBE82;letter-spacing:0.244px;">33¢</div>
<div class="t" style="left:1395.20px;top:1023.99px;font-size:30.96px;line-height:30.96px;font-weight:400;color:#D6115A;letter-spacing:-0.142px;">No</div>
<div class="t" style="left:1448.10px;top:1023.99px;font-size:30.96px;line-height:30.96px;font-weight:400;color:#D6115A;letter-spacing:0.494px;">69¢</div>
<div class="t" style="left:1128.60px;top:1146.99px;font-size:30.96px;line-height:30.96px;font-weight:400;color:#1EBE82;letter-spacing:-1.800px;">Yes</div>
<div class="t" style="left:1191.50px;top:1146.99px;font-size:30.96px;line-height:30.96px;font-weight:400;color:#1EBE82;letter-spacing:-0.956px;">9¢</div>
<div class="t" style="left:1395.00px;top:1146.99px;font-size:30.96px;line-height:30.96px;font-weight:400;color:#D6115A;letter-spacing:-0.142px;">No</div>
<div class="t" style="left:1447.90px;top:1146.99px;font-size:30.96px;line-height:30.96px;font-weight:400;color:#D6115A;letter-spacing:0.444px;">92¢</div>
<div class="t" style="left:1128.60px;top:1269.89px;font-size:30.96px;line-height:30.96px;font-weight:400;color:#1EBE82;letter-spacing:-1.800px;">Yes</div>
<div class="t" style="left:1191.50px;top:1269.89px;font-size:30.96px;line-height:30.96px;font-weight:400;color:#1EBE82;letter-spacing:-0.956px;">8¢</div>
<div class="t" style="left:1395.00px;top:1269.89px;font-size:30.96px;line-height:30.96px;font-weight:400;color:#D6115A;letter-spacing:-0.142px;">No</div>
<div class="t" style="left:1447.90px;top:1269.89px;font-size:30.96px;line-height:30.96px;font-weight:400;color:#D6115A;letter-spacing:0.444px;">93¢</div>
</body></html>
